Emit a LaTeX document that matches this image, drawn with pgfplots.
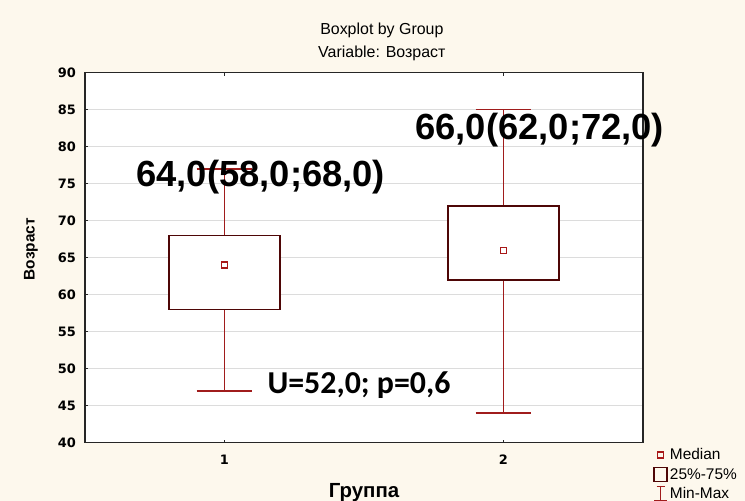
\documentclass[border=0pt]{standalone}
\usepackage{pgfplots}
\pgfplotsset{compat=1.18}
\usepackage{fontspec}
\setmainfont{Liberation Sans}
\newfontfamily\calibri{Carlito}
\newfontfamily\dejavu{DejaVu Sans}
\definecolor{bgc}{RGB}{253,248,237}
\definecolor{boxc}{RGB}{78,6,6}
\definecolor{whc}{RGB}{160,28,28}
\definecolor{medc}{RGB}{168,24,24}
\definecolor{gridc}{RGB}{220,220,220}
\begin{document}
\begin{tikzpicture}
\useasboundingbox (0,0) rectangle (745bp,501bp);
\fill[bgc] (0,0) rectangle (745bp,501bp);
\begin{axis}[
  at={(85bp,58.3bp)}, anchor=south west,
  scale only axis, width=558bp, height=370bp,
  xmin=0.5, xmax=2.5, ymin=40, ymax=90,
  xtick={1,2}, xticklabels={1,2},
  ytick={40,45,...,90},
  ymajorgrids, grid style={gridc, line width=0.8bp},
  axis background/.style={fill=white},
  axis line style={black!85, line width=1.3bp},
  tick align=inside, major tick length=3bp,
  xtick pos=both, ytick pos=left,
  tick style={black!85, line width=0.8bp},
  /pgf/number format/assume math mode=true,
  tick label style={font=\dejavu\bfseries\fontsize{13}{13}\selectfont},
  yticklabel style={inner sep=0pt, xshift=-9bp},
  xticklabel style={inner sep=0pt, anchor=north, yshift=-12bp},
  xlabel={Группа},
  xlabel style={font=\bfseries\fontsize{20.5}{20.5}\selectfont, at={(axis description cs:0.5,-0.11)}, anchor=north, inner sep=0pt},
  ylabel={Возраст},
  ylabel style={font=\bfseries\fontsize{15.5}{15.5}\selectfont, at={(axis description cs:-0.097,0.523)}, anchor=center, inner sep=0pt},
  clip=false,
  legend cell align=left,
  legend style={draw=none, fill=none, at={(axis description cs:1.018,-0.01)}, anchor=north west,
    font=\fontsize{15.5}{15.5}\selectfont, row sep=3bp, inner sep=0pt,
    /tikz/every even column/.append style={column sep=4bp}},
]
\addlegendimage{legend image code/.code={\draw[medc, line width=1.5bp] (3.5bp,-3bp) rectangle (9.5bp,3bp);}}
\addlegendentry{Median}
\addlegendimage{legend image code/.code={\draw[boxc, line width=1.7bp] (0bp,-7bp) rectangle (13bp,7bp);}}
\addlegendentry{25\%-75\%}
\addlegendimage{legend image code/.code={\draw[whc, line width=1.2bp] (2.5bp,7bp)--(10.5bp,7bp) (6.5bp,7bp)--(6.5bp,-7bp) (0bp,-7bp)--(13bp,-7bp);}}
\addlegendentry{Min-Max}

% group 1: min 47, q1 58, median 64, q3 68, max 77
\addplot[whc, line width=1.4bp, forget plot] coordinates {(1,68) (1,77)};
\addplot[whc, line width=1.4bp, forget plot] coordinates {(1,58) (1,47)};
\addplot[whc, line width=1.4bp, forget plot] coordinates {(0.9,77) (1.1,77)};
\addplot[whc, line width=1.4bp, forget plot] coordinates {(0.9,47) (1.1,47)};
\addplot[boxc, fill=white, line width=1.8bp, forget plot] coordinates {(0.802,58) (1.198,58) (1.198,68) (0.802,68)} -- cycle;
% group 2: min 44, q1 62, median 66, q3 72, max 85
\addplot[whc, line width=1.4bp, forget plot] coordinates {(2,72) (2,85)};
\addplot[whc, line width=1.4bp, forget plot] coordinates {(2,62) (2,44)};
\addplot[whc, line width=1.4bp, forget plot] coordinates {(1.9,85) (2.1,85)};
\addplot[whc, line width=1.4bp, forget plot] coordinates {(1.9,44) (2.1,44)};
\addplot[boxc, fill=white, line width=1.8bp, forget plot] coordinates {(1.802,62) (2.198,62) (2.198,72) (1.802,72)} -- cycle;
% medians
\addplot[only marks, mark=square, mark size=3bp, mark options={draw=medc, line width=1.4bp, fill=white}, forget plot] coordinates {(1,64) (2,66)};

\node[font=\bfseries\fontsize{36.5}{36.5}\selectfont, anchor=base, inner sep=0pt] at (axis cs:1.13,74.6) {64,0(58,0;68,0)};
\node[font=\bfseries\fontsize{36.5}{36.5}\selectfont, anchor=base, inner sep=0pt] at (axis cs:2.13,81.0) {66,0(62,0;72,0)};
\node[font=\calibri\bfseries\fontsize{32}{32}\selectfont, anchor=base, inner sep=0pt] at (axis cs:1.482,46.6) {U=52,0; p=0,6};

\node[font=\fontsize{16}{16}\selectfont, anchor=base, inner sep=0pt] at (axis description cs:0.532,1.102) {Boxplot by Group};
\node[font=\fontsize{16}{16}\selectfont, anchor=base, inner sep=0pt] at (axis description cs:0.532,1.042) {Variable: Возраст};
\end{axis}
\end{tikzpicture}
\end{document}
